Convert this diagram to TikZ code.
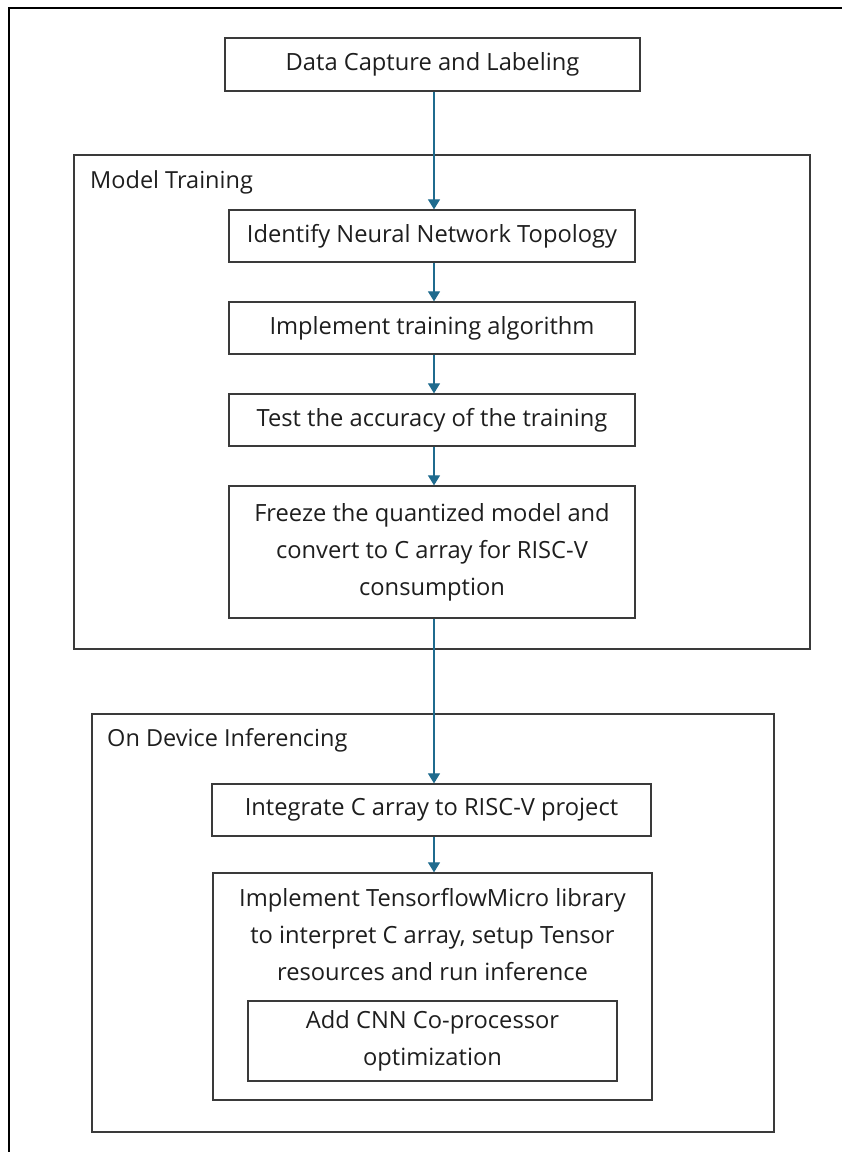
\documentclass[tikz,border=0pt]{standalone}
\usepackage{fontspec}
\setmainfont{Open Sans}
\usetikzlibrary{arrows.meta}
\definecolor{frameline}{HTML}{3A3A3A}
\definecolor{flowarrow}{HTML}{1F6B8E}
\definecolor{textcol}{HTML}{1E1E1E}
\begin{document}
\begin{tikzpicture}[x=1pt,y=-1pt,
  stepbox/.style={draw=frameline,line width=1.3pt,inner sep=0pt,align=center,
    text=textcol,font=\fontsize{23.7}{37}\selectfont},
  groupbox/.style={draw=frameline,line width=1.3pt,inner sep=0pt},
  grouplabel/.style={anchor=west,inner sep=0pt,text=textcol,font=\fontsize{23.5}{28}\selectfont},
  flow/.style={draw=flowarrow,line width=1.2pt,-{Triangle[width=12pt,length=10pt]}}]
  % page extent
  \useasboundingbox (0,0) rectangle (842,1152);
  % open outer frame (left and top edges)
  \coordinate (fbl) at (9,1152);
  \coordinate (ftl) at (9,8);
  \coordinate (ftr) at (842,8);
  \draw[black,line width=1.3pt] (fbl) -- (ftl) -- (ftr);

  % stage containers
  \node[groupbox,minimum width=736,minimum height=494] (train) at (442,402) {};
  \node[grouplabel] (trainlbl) at (90,182) {Model Training};
  \node[groupbox,minimum width=682,minimum height=418] (infer) at (433,923) {};
  \node[grouplabel] (inferlbl) at (107,740) {On Device Inferencing};

  % steps
  \node[stepbox,minimum width=415,minimum height=53] (data) at (432.5,64.5) {Data Capture and Labeling};
  \node[stepbox,minimum width=406,minimum height=52] (topo) at (432,236) {Identify Neural Network Topology};
  \node[stepbox,minimum width=406,minimum height=52] (algo) at (432,328) {Implement training algorithm};
  \node[stepbox,minimum width=406,minimum height=52] (acc) at (432,420) {Test the accuracy of the training};
  \node[stepbox,minimum width=406,minimum height=132] (freeze) at (432,552)
    {Freeze the quantized model and\\convert to C array for RISC-V\\consumption};
  \node[stepbox,minimum width=439,minimum height=52] (integ) at (431.5,810) {Integrate C array to RISC-V project};
  \node[stepbox,minimum width=439,minimum height=227] (tflm) at (432.5,986.5) {};
  \node[align=center,inner sep=0pt,text=textcol,font=\fontsize{23.7}{37}\selectfont] (tflmtxt) at (432.5,935)
    {Implement TensorflowMicro library\\to interpret C array, setup Tensor\\resources and run inference};
  \node[stepbox,minimum width=369,minimum height=80] (cnn) at (432.5,1041)
    {Add CNN Co-processor\\optimization};

  % flow
  \draw[flow] ([xshift=1.5pt]data.south) -- ([xshift=2pt]topo.north);
  \draw[flow] ([xshift=2pt]topo.south) -- ([xshift=2pt]algo.north);
  \draw[flow] ([xshift=2pt]algo.south) -- ([xshift=2pt]acc.north);
  \draw[flow] ([xshift=2pt]acc.south) -- ([xshift=2pt]freeze.north);
  \draw[flow] ([xshift=2pt]freeze.south) -- ([xshift=2.5pt]integ.north);
  \draw[flow] ([xshift=2.5pt]integ.south) -- ([xshift=1.5pt]tflm.north);
\end{tikzpicture}
\end{document}
